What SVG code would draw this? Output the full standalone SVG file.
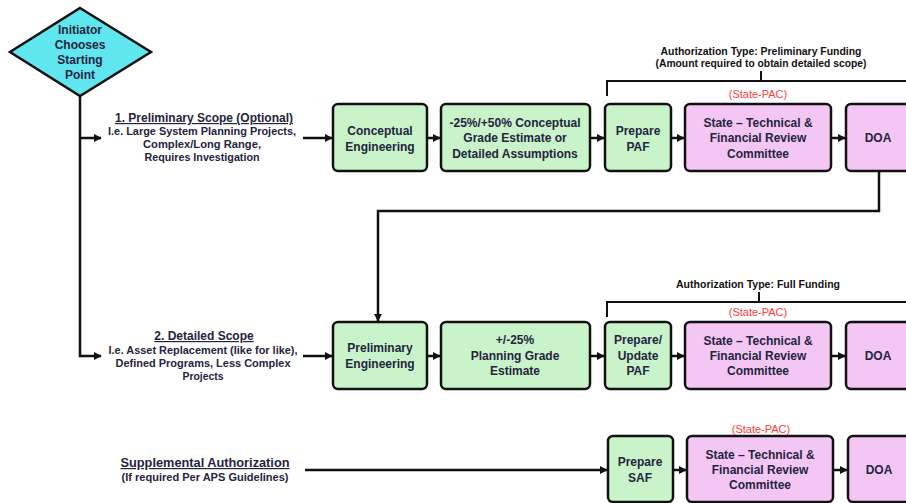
<svg xmlns="http://www.w3.org/2000/svg" width="906" height="503" viewBox="0 0 906 503">
<style>
  .g{fill:#c9f3c9;stroke:#111;stroke-width:2.5}
  .p{fill:#f4c6f4;stroke:#111;stroke-width:2.5}
  .t{font-family:"Liberation Sans",Arial,sans-serif;font-weight:bold;font-size:12px;fill:#24243e;text-anchor:middle}
  .h{font-family:"Liberation Sans",Arial,sans-serif;font-weight:bold;font-size:12px;fill:#24243e;text-anchor:middle;text-decoration:underline}
  .s{font-family:"Liberation Sans",Arial,sans-serif;font-weight:bold;font-size:10px;fill:#24243e;text-anchor:middle}
  .a{font-family:"Liberation Sans",Arial,sans-serif;font-weight:bold;font-size:10px;fill:#111;text-anchor:middle}
  .r{font-family:"Liberation Sans",Arial,sans-serif;font-size:11px;fill:#ff3b3b;text-anchor:middle}
  .c{fill:none;stroke:#111;stroke-width:2.5}
  .b{fill:none;stroke:#111;stroke-width:2}
</style>
<defs>
  <marker id="ah" viewBox="0 0 10 10" refX="9" refY="5" markerWidth="3.2" markerHeight="3.2" orient="auto" markerUnits="strokeWidth">
    <path d="M0,0 L10,5 L0,10 z" fill="#111"/>
  </marker>
</defs>
<rect width="906" height="503" fill="#fff"/>

<g id="start">
  <polygon points="80,8 151,52 80,96 10,52" fill="#5fe6ee" stroke="#111" stroke-width="2.5"/>
  <text class="t" x="80" y="34">Initiator</text>
  <text class="t" x="80" y="49">Chooses</text>
  <text class="t" x="80" y="64">Starting</text>
  <text class="t" x="80" y="79">Point</text>
</g>

<g id="label-prelim">
  <text class="h" x="204" y="122">1. Preliminary Scope (Optional)</text>
  <text class="s" x="202" y="135" textLength="188" lengthAdjust="spacingAndGlyphs">I.e. Large System Planning Projects,</text>
  <text class="s" x="202" y="148" textLength="118" lengthAdjust="spacingAndGlyphs">Complex/Long Range,</text>
  <text class="s" x="202" y="161" textLength="115" lengthAdjust="spacingAndGlyphs">Requires Investigation</text>
</g>
<g id="label-detailed">
  <text class="h" x="204" y="340">2. Detailed Scope</text>
  <text class="s" x="203" y="354" textLength="189" lengthAdjust="spacingAndGlyphs">I.e. Asset Replacement (like for like),</text>
  <text class="s" x="203" y="367" textLength="175" lengthAdjust="spacingAndGlyphs">Defined Programs, Less Complex</text>
  <text class="s" x="203" y="380" textLength="41" lengthAdjust="spacingAndGlyphs">Projects</text>
</g>
<g id="label-supp">
  <text class="h" x="205" y="467" textLength="169" lengthAdjust="spacingAndGlyphs">Supplemental Authorization</text>
  <text class="s" x="205" y="481" textLength="167" lengthAdjust="spacingAndGlyphs">(If required Per APS  Guidelines)</text>
</g>

<g id="auth-prelim">
  <text class="a" x="761" y="55" textLength="201" lengthAdjust="spacingAndGlyphs">Authorization Type: Preliminary Funding</text>
  <text class="a" x="761" y="67" textLength="211" lengthAdjust="spacingAndGlyphs">(Amount required to obtain detailed scope)</text>
  <path class="b" d="M607,96 V81 H906 M761,81 V71"/>
  <text class="r" x="758" y="98">(State-PAC)</text>
</g>
<g id="auth-full">
  <text class="a" x="758" y="288" textLength="164" lengthAdjust="spacingAndGlyphs">Authorization Type: Full Funding</text>
  <path class="b" d="M607,317 V302 H906 M759,302 V292"/>
  <text class="r" x="758" y="316">(State-PAC)</text>
</g>
<g id="auth-supp">
  <text class="r" x="761" y="433">(State-PAC)</text>
</g>

<g id="n1-ce"><rect class="g" x="333" y="104" width="94" height="67" rx="5"/>
  <text class="t" x="380" y="135">Conceptual</text><text class="t" x="380" y="151">Engineering</text></g>
<g id="n1-est"><rect class="g" x="441" y="104" width="149" height="67" rx="5"/>
  <text class="t" x="515" y="127">-25%/+50%  Conceptual</text><text class="t" x="515" y="142">Grade Estimate  or</text><text class="t" x="515" y="158">Detailed Assumptions</text></g>
<g id="n1-paf"><rect class="g" x="605" y="104" width="66" height="67" rx="5"/>
  <text class="t" x="638" y="135">Prepare</text><text class="t" x="638" y="151">PAF</text></g>
<g id="n1-state"><rect class="p" x="685" y="104" width="146" height="67" rx="5"/>
  <text class="t" x="758" y="127">State – Technical &amp;</text><text class="t" x="758" y="142">Financial Review</text><text class="t" x="758" y="158">Committee</text></g>
<g id="n1-doa"><rect class="p" x="846" y="104" width="66" height="67" rx="5"/>
  <text class="t" x="878" y="142">DOA</text></g>

<g id="n2-pe"><rect class="g" x="333" y="322" width="94" height="67" rx="5"/>
  <text class="t" x="380" y="352">Preliminary</text><text class="t" x="380" y="368">Engineering</text></g>
<g id="n2-est"><rect class="g" x="441" y="322" width="149" height="67" rx="5"/>
  <text class="t" x="515" y="344">+/-25%</text><text class="t" x="515" y="360">Planning Grade</text><text class="t" x="515" y="375">Estimate</text></g>
<g id="n2-paf"><rect class="g" x="605" y="322" width="66" height="67" rx="5"/>
  <text class="t" x="638" y="344">Prepare/</text><text class="t" x="638" y="360">Update</text><text class="t" x="638" y="375">PAF</text></g>
<g id="n2-state"><rect class="p" x="685" y="322" width="146" height="67" rx="5"/>
  <text class="t" x="758" y="345">State – Technical &amp;</text><text class="t" x="758" y="360">Financial Review</text><text class="t" x="758" y="375">Committee</text></g>
<g id="n2-doa"><rect class="p" x="846" y="322" width="66" height="67" rx="5"/>
  <text class="t" x="878" y="360">DOA</text></g>

<g id="n3-saf"><rect class="g" x="608" y="436" width="65" height="66" rx="5"/>
  <text class="t" x="640" y="466">Prepare</text><text class="t" x="640" y="482">SAF</text></g>
<g id="n3-state"><rect class="p" x="687" y="436" width="146" height="66" rx="5"/>
  <text class="t" x="760" y="459">State – Technical &amp;</text><text class="t" x="760" y="474">Financial Review</text><text class="t" x="760" y="489">Committee</text></g>
<g id="n3-doa"><rect class="p" x="848" y="436" width="64" height="66" rx="5"/>
  <text class="t" x="879" y="474">DOA</text></g>

<g id="connectors">
  <path class="c" d="M80,96 V356 H101" marker-end="url(#ah)"/>
  <path class="c" d="M80,138 H101" marker-end="url(#ah)"/>
  <path class="c" d="M303,138 H332" marker-end="url(#ah)"/>
  <path class="c" d="M427,138 H440" marker-end="url(#ah)"/>
  <path class="c" d="M590,138 H604" marker-end="url(#ah)"/>
  <path class="c" d="M671,138 H684" marker-end="url(#ah)"/>
  <path class="c" d="M831,138 H845" marker-end="url(#ah)"/>
  <path class="c" d="M879,171 V211 H378 V321" marker-end="url(#ah)"/>
  <path class="c" d="M303,356 H332" marker-end="url(#ah)"/>
  <path class="c" d="M427,356 H440" marker-end="url(#ah)"/>
  <path class="c" d="M590,356 H604" marker-end="url(#ah)"/>
  <path class="c" d="M671,356 H684" marker-end="url(#ah)"/>
  <path class="c" d="M831,356 H845" marker-end="url(#ah)"/>
  <path class="c" d="M305,470 H607" marker-end="url(#ah)"/>
  <path class="c" d="M673,470 H686" marker-end="url(#ah)"/>
  <path class="c" d="M833,470 H847" marker-end="url(#ah)"/>
</g>
</svg>
